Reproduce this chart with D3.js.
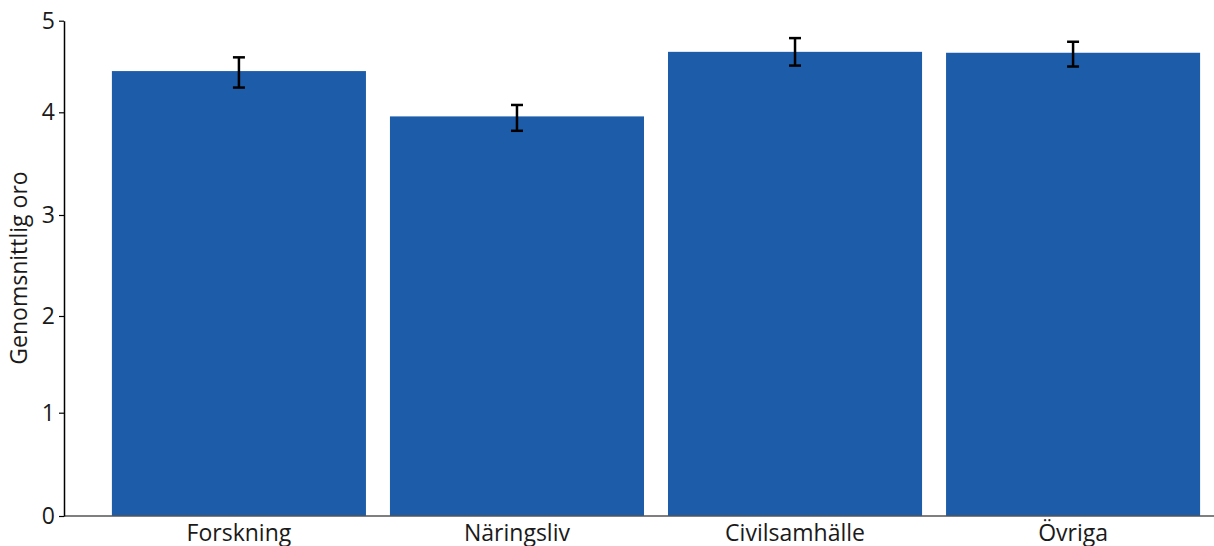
<!DOCTYPE html>
<html>
<head>
<meta charset="utf-8">
<script src="https://cdn.jsdelivr.net/npm/d3@7"></script>
<style>
  body { margin: 0; background: #fff; }
  svg { display: block; font-family: "Open Sans", sans-serif; }
</style>
</head>
<body>
<div id="chart"></div>
<script>
// data
var categories = ["Forskning", "Näringsliv", "Civilsamhälle", "Övriga"];
var means = [4.45, 3.96, 4.66, 4.65];
var errLow = [4.27, 3.82, 4.51, 4.50];
var errHigh = [4.60, 4.08, 4.81, 4.77];
var yTicks = [0, 1, 2, 3, 4, 5];
var ytitle = "Genomsnittlig oro";

var W = 1214, H = 546;
var axisX = 64;
var fs = 23;

var chart = d3.select("#chart").append("svg")
  .attr("width", W)
  .attr("height", H);

// the reference's tick spacing is not quite even, so a piecewise scale
var yscale = d3.scaleLinear()
  .domain(yTicks)
  .range([516, 412.7, 316, 215, 112.3, 20.7]);

var xscale = d3.scaleBand()
  .domain(categories)
  .range([98, 1214])
  .paddingInner(0.0863)
  .paddingOuter(0.05);

var data = categories.map(function(c, i) {
  return {cat: c, mean: means[i], lo: errLow[i], hi: errHigh[i]};
});

// bars
chart.selectAll("rect.bar")
  .data(data).enter()
  .append("rect")
  .attr("class", "bar")
  .attr("x", function(d) { return xscale(d.cat); })
  .attr("y", function(d) { return yscale(d.mean); })
  .attr("width", xscale.bandwidth())
  .attr("height", function(d) { return yscale(0) - yscale(d.mean); })
  .attr("fill", "#1c5ca9");

// error bars
var eb = chart.selectAll("g.err")
  .data(data).enter()
  .append("g")
  .attr("class", "err")
  .attr("stroke", "#000")
  .attr("stroke-width", 2.5);
eb.append("line")
  .attr("x1", function(d) { return xscale(d.cat) + xscale.bandwidth() / 2; })
  .attr("x2", function(d) { return xscale(d.cat) + xscale.bandwidth() / 2; })
  .attr("y1", function(d) { return yscale(d.lo); })
  .attr("y2", function(d) { return yscale(d.hi); });
["lo", "hi"].forEach(function(k) {
  eb.append("line")
    .attr("x1", function(d) { return xscale(d.cat) + xscale.bandwidth() / 2 - 6; })
    .attr("x2", function(d) { return xscale(d.cat) + xscale.bandwidth() / 2 + 6; })
    .attr("y1", function(d) { return yscale(d[k]); })
    .attr("y2", function(d) { return yscale(d[k]); });
});

// x axis baseline + labels
chart.append("line")
  .attr("x1", axisX).attr("x2", W)
  .attr("y1", yscale(0)).attr("y2", yscale(0))
  .attr("stroke", "#555")
  .attr("stroke-width", 1.5);

var xa = chart.append("g")
  .attr("transform", "translate(0," + yscale(0) + ")")
  .call(d3.axisBottom(xscale).tickSize(0).tickPadding(9));
xa.select(".domain").remove();
xa.selectAll("text")
  .attr("font-size", fs)
  .attr("font-family", "Open Sans")
  .attr("fill", "#1a1a1a");

// y axis
var ya = chart.append("g")
  .attr("transform", "translate(" + axisX + ",0)")
  .call(d3.axisLeft(yscale).tickValues(yTicks).tickFormat(d3.format("d")).tickSize(5).tickSizeOuter(0).tickPadding(4));
ya.select(".domain").attr("stroke", "#000").attr("stroke-width", 1.5);
ya.selectAll(".tick line").attr("stroke", "#000").attr("stroke-width", 1.2);
ya.selectAll("text")
  .attr("font-size", fs)
  .attr("font-family", "Open Sans")
  .attr("fill", "#1a1a1a");

chart.append("text")
  .attr("transform", "rotate(-90)")
  .attr("x", -268)
  .attr("y", 19)
  .attr("dy", "0.35em")
  .attr("text-anchor", "middle")
  .attr("font-size", fs)
  .attr("fill", "#1a1a1a")
  .text(ytitle);
</script>
</body>
</html>
